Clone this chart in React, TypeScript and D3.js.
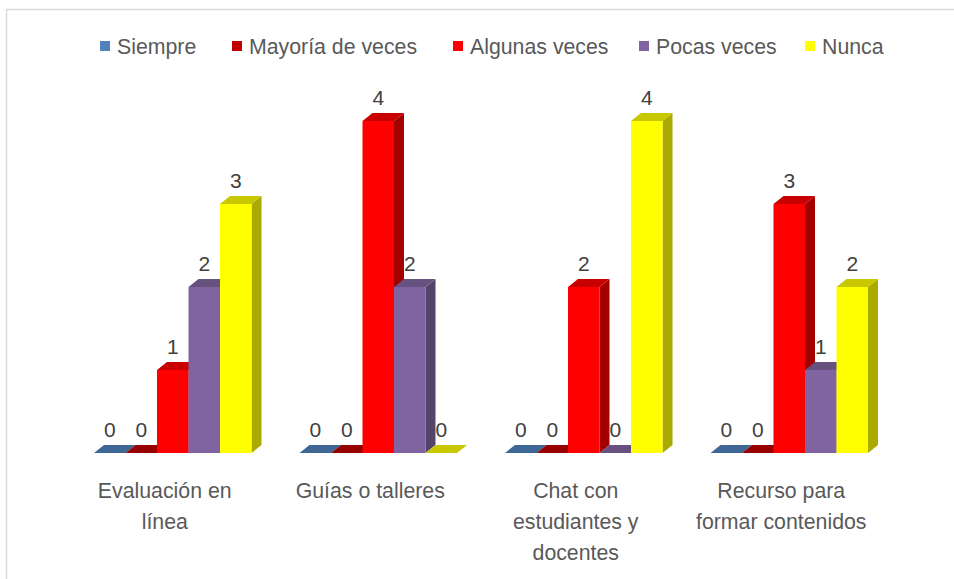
import React, { useEffect } from "react";
import * as d3 from "d3";

const categories = [
  "Evaluación en línea",
  "Guías o talleres",
  "Chat con estudiantes y docentes",
  "Recurso para formar contenidos",
];
const categoryLines = [
  ["Evaluación en", "línea"],
  ["Guías o talleres"],
  ["Chat con", "estudiantes y", "docentes"],
  ["Recurso para", "formar contenidos"],
];
const seriesNames = ["Siempre", "Mayoría de veces", "Algunas veces", "Pocas veces", "Nunca"];
const siempre = [0, 0, 0, 0];
const mayoria = [0, 0, 0, 0];
const algunas = [1, 4, 2, 3];
const pocas = [2, 2, 0, 1];
const nunca = [3, 0, 4, 2];
const seriesValues = [siempre, mayoria, algunas, pocas, nunca];

const frontColors = ["#4F81BD", "#C00000", "#FF0000", "#8064A2", "#FFFF00"];
const topColors = ["#3E6795", "#960000", "#C80000", "#66517F", "#C8C800"];
const sideColors = ["#345780", "#800000", "#A30000", "#54436A", "#AAAA00"];

const legendX = [100, 232, 453, 639, 805];

const W = 954;
const H = 579;
const DX = 10;
const DY = -8;
const FONT = "'Liberation Sans', Arial, sans-serif";

export default function App() {
  useEffect(() => {
    document.body.style.margin = "0";
  }, []);

  const x0 = d3.scaleBand<string>().domain(categories).range([70, 892]).paddingInner(0);
  const x1 = d3.scaleBand<string>().domain(seriesNames).range([24, 181.5]).padding(0);
  const y = d3.scaleLinear().domain([0, 4]).range([453, 121]);
  const w = x1.bandwidth();
  const base = y(0);

  const bars: React.ReactNode[] = [];
  const labels: React.ReactNode[] = [];
  categories.forEach((cat, ci) => {
    seriesNames.forEach((s, si) => {
      const v = seriesValues[si][ci];
      const x = (x0(cat) ?? 0) + (x1(s) ?? 0);
      const top = y(v);
      const key = `${ci}-${si}`;
      const topPts = [
        [x, top],
        [x + DX, top + DY],
        [x + w + DX, top + DY],
        [x + w, top],
      ];
      const sidePts = [
        [x + w, top],
        [x + w + DX, top + DY],
        [x + w + DX, base + DY],
        [x + w, base],
      ];
      bars.push(
        <g key={key}>
          {v > 0 && (
            <polygon points={sidePts.map((p) => p.join(",")).join(" ")} fill={sideColors[si]} />
          )}
          <polygon points={topPts.map((p) => p.join(",")).join(" ")} fill={topColors[si]} />
          {v > 0 && <rect x={x} y={top} width={w} height={base - top} fill={frontColors[si]} />}
        </g>
      );
      labels.push(
        <text
          key={"l" + key}
          x={x + w / 2}
          y={top - 16.5}
          textAnchor="middle"
          fontSize={21}
          fill="#404040"
          fontFamily={FONT}
        >
          {v}
        </text>
      );
    });
  });

  return (
    <div style={{ position: "absolute", left: 0, top: 0 }}>
      <svg width={W} height={H} style={{ display: "block", background: "#fff" }}>
        <rect x={6.5} y={9.5} width={W + 20} height={H + 20} fill="#fff" stroke="#D9D9D9" strokeWidth={1.5} />
        {seriesNames.map((s, i) => (
          <g key={s}>
            <rect x={legendX[i]} y={41} width={10} height={10} fill={frontColors[i]} />
            <text x={legendX[i] + 17} y={54} fontSize={21.3} fill="#595959" fontFamily={FONT}>
              {s}
            </text>
          </g>
        ))}
        {bars}
        {labels}
        {categories.map((cat, ci) => (
          <text
            key={cat}
            x={(x0(cat) ?? 0) + x0.bandwidth() / 2 - 8}
            textAnchor="middle"
            fontSize={21.3}
            fill="#595959"
            fontFamily={FONT}
          >
            {categoryLines[ci].map((line, li) => (
              <tspan key={li} x={(x0(cat) ?? 0) + x0.bandwidth() / 2 - 8} y={498 + li * 31}>
                {line}
              </tspan>
            ))}
          </text>
        ))}
      </svg>
    </div>
  );
}
